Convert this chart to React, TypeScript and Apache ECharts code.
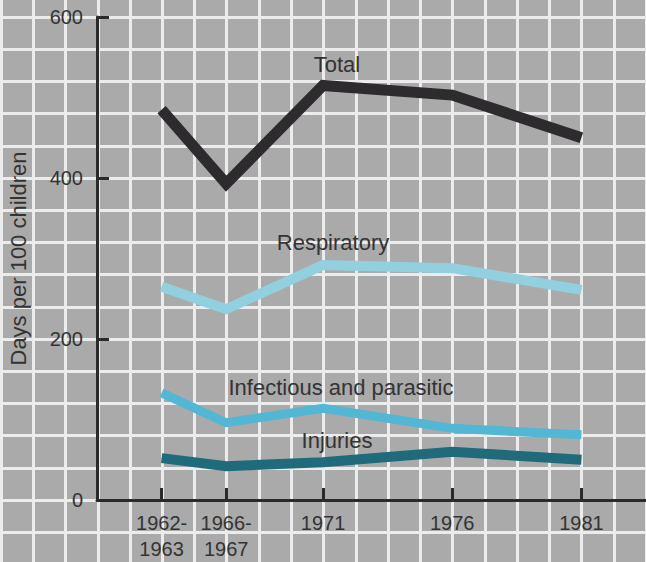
import React, { useEffect, useRef } from "react";
import * as echarts from "echarts";

// Categories and their positions along the x axis (in background-grid units from the y axis)
const categories = ["1962-\n1963", "1966-\n1967", "1971", "1976", "1981"];
const categoryPositions = [2, 4, 7, 11, 15];

// Series values (days per 100 children)
const totalValues = [485, 393, 515, 503, 450];
const respiratoryValues = [265, 237, 292, 288, 261];
const infectiousValues = [133, 96, 114, 89, 81];
const injuriesValues = [52, 42, 47, 60, 50];

const yTicks = [0, 200, 400, 600];

const FONT = "'Liberation Sans', Helvetica, Arial, sans-serif";
const INK = "#333333";
const AXIS = "#2a2a2a";

function pairs(values: number[]) {
  return values.map((v, i) => [categoryPositions[i], v]);
}

export default function App() {
  const ref = useRef<HTMLDivElement>(null);

  useEffect(() => {
    if (!ref.current) return;
    const chart = echarts.init(ref.current, null, { renderer: "svg" });

    const lineSeries = (name: string, values: number[], color: string, width: number) => ({
      name,
      type: "line",
      xAxisIndex: 1,
      yAxisIndex: 1,
      data: pairs(values),
      symbol: "none",
      lineStyle: { color, width, cap: "butt", join: "miter" },
      z: 5,
    });

    const label = (text: string, x: number, y: number) => ({
      type: "text",
      x,
      y,
      z: 100,
      style: {
        text,
        fill: INK,
        font: `22px ${FONT}`,
        textAlign: "center",
        textVerticalAlign: "middle",
      },
    });

    chart.setOption({
      animation: false,
      backgroundColor: "#aaaaaa",
      grid: [
        { left: 1, right: 0, top: -15.2, bottom: -2.4, containLabel: false, outerBoundsMode: "none" },
        { left: 97, right: 0, top: 17, bottom: 62, containLabel: false, outerBoundsMode: "none" },
      ],
      xAxis: [
        {
          type: "value",
          gridIndex: 0,
          min: 0,
          max: 20,
          interval: 1,
          axisLine: { show: false },
          axisTick: { show: false },
          axisLabel: { show: false },
          splitLine: { show: true, lineStyle: { color: "#ececec", width: 3 } },
          z: 0,
        },
        {
          type: "value",
          gridIndex: 1,
          min: 0,
          max: 17,
          interval: 1,
          z: 10,
          axisLine: { show: true, lineStyle: { color: AXIS, width: 3 } },
          axisTick: {
            show: true,
            inside: true,
            length: 12,
            customValues: categoryPositions,
            lineStyle: { color: AXIS, width: 3 },
          },
          axisLabel: {
            show: true,
            customValues: categoryPositions,
            formatter: (v: number) => {
              const i = categoryPositions.indexOf(v);
              return i >= 0 ? categories[i] : "";
            },
            color: INK,
            fontFamily: FONT,
            fontSize: 20,
            lineHeight: 26,
            margin: 10,
          },
          splitLine: { show: false },
        },
      ],
      yAxis: [
        {
          type: "value",
          gridIndex: 0,
          min: -2,
          max: 16,
          interval: 1,
          axisLine: { show: false },
          axisTick: { show: false },
          axisLabel: { show: false },
          splitLine: { show: true, lineStyle: { color: "#ececec", width: 3 } },
          z: 0,
        },
        {
          type: "value",
          gridIndex: 1,
          min: 0,
          max: 600,
          interval: 200,
          z: 10,
          name: "Days per 100 children",
          nameLocation: "middle",
          nameRotate: 90,
          nameGap: 68,
          nameTextStyle: { color: INK, fontFamily: FONT, fontSize: 22 },
          axisLine: { show: true, lineStyle: { color: AXIS, width: 3 } },
          axisTick: {
            show: true,
            inside: true,
            length: 12,
            customValues: yTicks,
            lineStyle: { color: AXIS, width: 3 },
          },
          axisLabel: {
            show: true,
            customValues: yTicks,
            color: INK,
            fontFamily: FONT,
            fontSize: 20,
            margin: 14,
          },
          splitLine: { show: false },
        },
      ],
      series: [
        lineSeries("Respiratory", respiratoryValues, "#92d0df", 10),
        lineSeries("Infectious and parasitic", infectiousValues, "#52b7d4", 9),
        lineSeries("Injuries", injuriesValues, "#1f6b7c", 10),
        lineSeries("Total", totalValues, "#2d2b2d", 11),
      ],
      graphic: [
        label("Total", 337, 64),
        label("Respiratory", 333, 242),
        label("Infectious and parasitic", 341, 387),
        label("Injuries", 337, 440),
      ],
    });

    return () => chart.dispose();
  }, []);

  return (
    <div
      ref={ref}
      style={{ position: "absolute", left: 0, top: 0, width: 646, height: 562 }}
    />
  );
}
